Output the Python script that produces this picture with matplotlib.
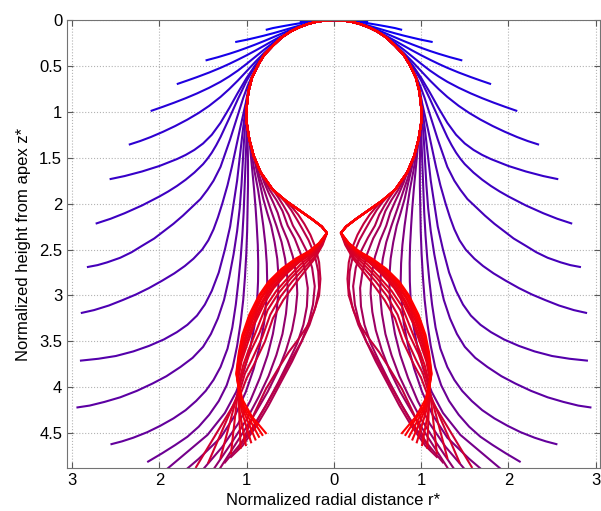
import matplotlib
matplotlib.use('Agg')
import matplotlib.pyplot as plt

# common near-circular part of the profiles, left half (r >= 0), apex -> neck
ARC_R = [0.00, 0.10, 0.20, 0.30, 0.40, 0.50, 0.60, 0.70, 0.80, 0.87, 0.94, 0.98,
         1.00, 1.00, 0.97, 0.92, 0.84, 0.70, 0.55, 0.40, 0.25, 0.14, 0.08]
ARC_Z = [0.000, 0.005, 0.019, 0.044, 0.080, 0.127, 0.19, 0.28, 0.38, 0.49, 0.63, 0.78,
         0.95, 1.12, 1.30, 1.48, 1.66, 1.85, 1.97, 2.07, 2.17, 2.25, 2.32]

# outer (blue) profiles: arc index where they leave the circle, then their own points
BLUE_LEAVE = [0, 0, 1, 2, 3, 5, 6, 7, 8, 9, 10, 11, 12, 13, 13]
BLUE_TAIL = [
    [(0.10, 0.0015), (0.20, 0.006), (0.30, 0.013), (0.38, 0.020)],
    [(0.10, 0.0025), (0.20, 0.010), (0.30, 0.022), (0.40, 0.037), (0.50, 0.053),
     (0.60, 0.070), (0.70, 0.088), (0.77, 0.105)],
    [(0.20, 0.016), (0.30, 0.036), (0.40, 0.062), (0.50, 0.090), (0.60, 0.118),
     (0.70, 0.145), (0.80, 0.170), (0.90, 0.193), (1.00, 0.215), (1.12, 0.238)],
    [(0.30, 0.041), (0.40, 0.071), (0.50, 0.108), (0.60, 0.148), (0.70, 0.189),
     (0.80, 0.229), (0.90, 0.267), (1.00, 0.303), (1.10, 0.337), (1.20, 0.368),
     (1.33, 0.405), (1.46, 0.438)],
    [(0.40, 0.079), (0.50, 0.123), (0.60, 0.173), (0.70, 0.226), (0.80, 0.280),
     (0.90, 0.333), (1.00, 0.384), (1.10, 0.432), (1.20, 0.478), (1.30, 0.521),
     (1.43, 0.572), (1.57, 0.622), (1.68, 0.659), (1.79, 0.695)],
    [(0.60, 0.185), (0.70, 0.250), (0.80, 0.323), (0.90, 0.400), (1.00, 0.477),
     (1.10, 0.550), (1.20, 0.615), (1.30, 0.673), (1.43, 0.738), (1.57, 0.800),
     (1.70, 0.852), (1.83, 0.900), (1.96, 0.945), (2.09, 0.988)],
    [(0.70, 0.270), (0.80, 0.358), (0.90, 0.455), (1.00, 0.557), (1.10, 0.658),
     (1.20, 0.752), (1.30, 0.838), (1.43, 0.935), (1.55, 1.012), (1.68, 1.085),
     (1.82, 1.155), (1.96, 1.218), (2.10, 1.275), (2.22, 1.318), (2.34, 1.355)],
    [(0.80, 0.375), (0.90, 0.490), (1.00, 0.630), (1.10, 0.790), (1.20, 0.960),
     (1.30, 1.120), (1.40, 1.250), (1.50, 1.345), (1.60, 1.415), (1.70, 1.470),
     (1.80, 1.515), (2.00, 1.590), (2.20, 1.650), (2.40, 1.700), (2.56, 1.732)],
    [(0.90, 0.500), (1.00, 0.660), (1.10, 0.860), (1.20, 1.070), (1.30, 1.275),
     (1.35, 1.365), (1.40, 1.445), (1.45, 1.512), (1.50, 1.570), (1.60, 1.662),
     (1.70, 1.740), (1.80, 1.808), (1.90, 1.868), (2.00, 1.922), (2.20, 2.020),
     (2.40, 2.105), (2.56, 2.165), (2.72, 2.215)],
    [(0.935, 0.60), (0.99, 0.72), (1.04, 0.85), (1.09, 1.00), (1.14, 1.15), (1.19, 1.30),
     (1.245, 1.45), (1.30, 1.60), (1.38, 1.75), (1.45, 1.85), (1.53, 1.95), (1.63, 2.04),
     (1.73, 2.13), (1.84, 2.22), (1.95, 2.30), (2.06, 2.38), (2.20, 2.46), (2.32, 2.53),
     (2.45, 2.59), (2.60, 2.64), (2.71, 2.67), (2.82, 2.69)],
    [(0.98, 0.75), (1.01, 0.90), (1.045, 1.05), (1.08, 1.20), (1.125, 1.40), (1.17, 1.60),
     (1.22, 1.80), (1.28, 2.00), (1.33, 2.15), (1.38, 2.28), (1.44, 2.40), (1.51, 2.50),
     (1.61, 2.60), (1.71, 2.68), (1.83, 2.76), (1.97, 2.84), (2.12, 2.92), (2.27, 2.99),
     (2.42, 3.05), (2.58, 3.11), (2.75, 3.16), (2.89, 3.19)],
    [(1.005, 0.90), (1.025, 1.05), (1.05, 1.25), (1.08, 1.50), (1.11, 1.75), (1.15, 2.00),
     (1.19, 2.25), (1.25, 2.50), (1.32, 2.75), (1.40, 2.95), (1.48, 3.10), (1.57, 3.22),
     (1.68, 3.32), (1.80, 3.40), (1.95, 3.48), (2.12, 3.55), (2.30, 3.61), (2.50, 3.66),
     (2.70, 3.69), (2.90, 3.71)],
    [(1.015, 1.10), (1.03, 1.30), (1.045, 1.55), (1.06, 1.80), (1.08, 2.05), (1.11, 2.30),
     (1.15, 2.55), (1.20, 2.80), (1.26, 3.05), (1.33, 3.25), (1.41, 3.42), (1.50, 3.56),
     (1.62, 3.68), (1.76, 3.78), (1.92, 3.88), (2.08, 3.96), (2.26, 4.04), (2.45, 4.11),
     (2.63, 4.16), (2.80, 4.20), (2.94, 4.22)],
    [(1.005, 1.35), (1.015, 1.60), (1.025, 1.85), (1.035, 2.10), (1.05, 2.35), (1.07, 2.60),
     (1.095, 2.85), (1.125, 3.10), (1.165, 3.35), (1.22, 3.58), (1.30, 3.78), (1.38, 3.92),
     (1.47, 4.04), (1.58, 4.15), (1.70, 4.25), (1.84, 4.34), (1.99, 4.42), (2.14, 4.49),
     (2.30, 4.55), (2.43, 4.59), (2.55, 4.62)],
    [(0.99, 1.30), (0.985, 1.55), (0.985, 1.80), (0.99, 2.05), (0.995, 2.30), (1.005, 2.55),
     (1.02, 2.80), (1.04, 3.05), (1.07, 3.30), (1.11, 3.55), (1.16, 3.78), (1.23, 3.98),
     (1.32, 4.15), (1.43, 4.30), (1.55, 4.43), (1.68, 4.54), (1.82, 4.63), (1.97, 4.72),
     (2.13, 4.81)],
]

# middle (purple) profiles leaving the lower part of the circle
PURPLE_LEAVE = [14, 14, 15, 15, 16, 16, 17, 17, 18]
PURPLE_TAIL = [
    [(0.955, 1.45), (0.935, 1.65), (0.915, 1.85), (0.898, 2.05), (0.885, 2.24),
     (0.873, 2.45), (0.868, 2.65), (0.870, 2.85), (0.880, 3.05), (0.905, 3.30),
     (0.955, 3.55), (1.025, 3.80), (1.12, 4.05), (1.25, 4.28), (1.45, 4.52),
     (1.70, 4.72), (1.95, 4.92)],
    [(0.945, 1.45), (0.910, 1.65), (0.870, 1.85), (0.838, 2.05), (0.810, 2.24),
     (0.785, 2.45), (0.770, 2.65), (0.765, 2.85), (0.775, 3.05), (0.800, 3.30),
     (0.850, 3.55), (0.920, 3.80), (1.010, 4.05), (1.130, 4.30), (1.300, 4.55),
     (1.550, 4.78), (1.760, 4.95)],
    [(0.890, 1.62), (0.850, 1.78), (0.810, 1.95), (0.765, 2.10), (0.720, 2.24),
     (0.680, 2.42), (0.650, 2.60), (0.635, 2.80), (0.640, 3.00), (0.660, 3.20),
     (0.700, 3.42), (0.760, 3.65), (0.850, 3.90), (0.960, 4.15), (1.100, 4.40),
     (1.280, 4.65), (1.550, 4.95)],
    [(0.885, 1.60), (0.840, 1.74), (0.790, 1.88), (0.730, 2.05), (0.660, 2.24),
     (0.600, 2.42), (0.560, 2.60), (0.535, 2.80), (0.530, 3.00), (0.550, 3.20),
     (0.590, 3.42), (0.660, 3.65), (0.750, 3.88), (0.860, 4.10), (1.000, 4.35),
     (1.170, 4.60), (1.420, 4.95)],
    [(0.800, 1.77), (0.750, 1.88), (0.700, 1.98), (0.645, 2.10), (0.600, 2.24),
     (0.530, 2.40), (0.470, 2.58), (0.430, 2.78), (0.420, 2.98), (0.440, 3.18),
     (0.480, 3.38), (0.550, 3.60), (0.640, 3.82), (0.760, 4.05), (0.900, 4.28),
     (1.060, 4.52), (1.250, 4.80), (1.330, 4.92)],
    [(0.790, 1.76), (0.730, 1.86), (0.660, 1.96), (0.590, 2.08), (0.530, 2.24),
     (0.450, 2.38), (0.380, 2.55), (0.330, 2.73), (0.300, 2.92), (0.310, 3.12),
     (0.350, 3.32), (0.420, 3.52), (0.520, 3.72), (0.640, 3.95), (0.780, 4.20),
     (0.940, 4.45), (1.100, 4.65), (1.250, 4.82)],
    [(0.640, 1.93), (0.580, 2.02), (0.520, 2.12), (0.470, 2.24), (0.390, 2.37),
     (0.310, 2.52), (0.250, 2.70), (0.220, 2.90), (0.240, 3.10), (0.290, 3.30),
     (0.370, 3.50), (0.480, 3.72), (0.610, 3.95), (0.750, 4.20), (0.900, 4.44),
     (1.050, 4.64), (1.180, 4.76)],
    [(0.630, 1.91), (0.560, 1.98), (0.490, 2.07), (0.420, 2.18), (0.360, 2.28),
     (0.290, 2.40), (0.220, 2.56), (0.180, 2.74), (0.170, 2.92), (0.210, 3.12),
     (0.280, 3.32), (0.370, 3.50), (0.490, 3.70), (0.630, 3.95), (0.780, 4.20),
     (0.930, 4.45), (1.110, 4.68)],
    [(0.480, 2.04), (0.410, 2.12), (0.340, 2.22), (0.270, 2.34), (0.210, 2.48),
     (0.170, 2.64), (0.155, 2.82), (0.170, 3.00), (0.230, 3.18), (0.310, 3.34),
     (0.410, 3.48), (0.520, 3.62), (0.640, 3.80), (0.780, 4.02), (0.910, 4.28),
     (1.050, 4.60)],
]

# inner (red) profiles: whole circle down to the neck, then the lower bulge
# and the broom of end points; listed from the least red to the reddest
RED_TAIL = [
    [(0.13, 2.45), (0.22, 2.60), (0.32, 2.72), (0.45, 2.88), (0.58, 3.05), (0.70, 3.25),
     (0.79, 3.50), (0.92, 3.76), (1.00, 3.90), (1.06, 4.05), (1.58, 4.87)],
    [(0.14, 2.45), (0.23, 2.59), (0.34, 2.70), (0.48, 2.85), (0.61, 3.01), (0.73, 3.21),
     (0.82, 3.45), (0.94, 3.70), (1.02, 3.85), (1.07, 4.01), (1.44, 4.82)],
    [(0.14, 2.44), (0.24, 2.57), (0.36, 2.68), (0.50, 2.82), (0.64, 2.98), (0.76, 3.16),
     (0.85, 3.40), (0.97, 3.64), (1.03, 3.80), (1.08, 3.98), (1.30, 4.77)],
    [(0.15, 2.44), (0.25, 2.56), (0.38, 2.66), (0.52, 2.80), (0.66, 2.95), (0.78, 3.12),
     (0.88, 3.36), (0.98, 3.60), (1.04, 3.76), (1.09, 3.95), (1.18, 4.72)],
    [(0.16, 2.44), (0.26, 2.55), (0.40, 2.64), (0.55, 2.77), (0.69, 2.92), (0.80, 3.09),
     (0.91, 3.31), (1.00, 3.55), (1.06, 3.72), (1.10, 3.92), (1.07, 4.66)],
    [(0.158, 2.436), (0.270, 2.543), (0.405, 2.635), (0.557, 2.759), (0.701, 2.908),
     (0.814, 3.073), (0.918, 3.294), (1.012, 3.526), (1.064, 3.701), (1.103, 3.908),
     (1.08, 4.27), (1.01, 4.63)],
    [(0.16, 2.43), (0.27, 2.54), (0.41, 2.63), (0.57, 2.75), (0.71, 2.89), (0.82, 3.06),
     (0.93, 3.27), (1.02, 3.50), (1.07, 3.68), (1.11, 3.89), (1.06, 4.25), (0.95, 4.60)],
    [(0.164, 2.433), (0.279, 2.533), (0.421, 2.619), (0.576, 2.737), (0.723, 2.882),
     (0.834, 3.040), (0.941, 3.256), (1.029, 3.483), (1.076, 3.665), (1.110, 3.882),
     (1.05, 4.23), (0.90, 4.57)],
    [(0.17, 2.43), (0.28, 2.53), (0.43, 2.61), (0.59, 2.73), (0.73, 2.87), (0.84, 3.03),
     (0.95, 3.24), (1.04, 3.46), (1.08, 3.65), (1.11, 3.87), (1.04, 4.22), (0.86, 4.54)],
    [(0.168, 2.431), (0.286, 2.524), (0.434, 2.606), (0.593, 2.719), (0.742, 2.860),
     (0.852, 3.013), (0.961, 3.225), (1.044, 3.447), (1.086, 3.634), (1.117, 3.860),
     (1.03, 4.21), (0.82, 4.52)],
    [(0.17, 2.43), (0.29, 2.52), (0.44, 2.60), (0.60, 2.71), (0.75, 2.85), (0.86, 3.00),
     (0.97, 3.21), (1.05, 3.43), (1.09, 3.62), (1.12, 3.85), (1.08, 4.08), (0.94, 4.32),
     (0.78, 4.50)],
]

X_TICKS = [-3, -2, -1, 0, 1, 2, 3]
X_TICK_LABELS = ['3', '2', '1', '0', '1', '2', '3']
Y_TICKS = [0, 0.5, 1, 1.5, 2, 2.5, 3, 3.5, 4, 4.5]
Y_TICK_LABELS = ['0', '0.5', '1', '1.5', '2', '2.5', '3', '3.5', '4', '4.5']


def build(leave, tail):
    r = ARC_R[:leave + 1] + [p[0] for p in tail]
    z = ARC_Z[:leave + 1] + [p[1] for p in tail]
    return r, z


def shades(n, lo, hi):
    # evenly spread red share between lo and hi for a group of n profiles
    if n == 1:
        return [hi]
    return [lo + (hi - lo) * i / (n - 1) for i in range(n)]


def main():
    plt.rcParams['font.family'] = ['Liberation Sans', 'DejaVu Sans']

    profiles = []
    reds = []
    for (k, t), s in zip(zip(BLUE_LEAVE, BLUE_TAIL), shades(len(BLUE_TAIL), 0.0, 0.42)):
        profiles.append(build(k, t))
        reds.append(s)
    for (k, t), s in zip(zip(PURPLE_LEAVE, PURPLE_TAIL), shades(len(PURPLE_TAIL), 0.46, 0.76)):
        profiles.append(build(k, t))
        reds.append(s)
    for t, s in zip(RED_TAIL, shades(len(RED_TAIL), 0.80, 1.0)):
        profiles.append(build(len(ARC_R) - 1, t))
        reds.append(s)

    fig = plt.figure(figsize=(6.01, 5.11), dpi=100)
    ax = fig.add_axes([67 / 601, 1 - 468 / 511, 533 / 601, 448 / 511])

    # colour runs from blue (outer profiles) to red (inner profiles)
    for (r, z), s in zip(profiles, reds):
        col = (s, 0.0, 1.0 - s)
        ax.plot(r, z, color=col, lw=1.5, solid_joinstyle='round')
        ax.plot([-v for v in r], z, color=col, lw=1.5, solid_joinstyle='round')

    ax.set_xlim(-3.06, 3.05)
    ax.set_ylim(4.88, 0)
    ax.set_xticks(X_TICKS)
    ax.set_xticklabels(X_TICK_LABELS)
    ax.set_yticks(Y_TICKS)
    ax.set_yticklabels(Y_TICK_LABELS)
    ax.tick_params(direction='in', length=4, labelsize=12, colors='0.35',
                   labelcolor='black', top=True, right=True)
    ax.grid(True, linestyle=':', color='0.7', linewidth=0.8)
    ax.set_axisbelow(True)
    for sp in ax.spines.values():
        sp.set_color('0.45')
        sp.set_linewidth(0.8)

    ax.set_xlabel('Normalized radial distance r*', fontsize=12, labelpad=4)
    ax.set_ylabel('Normalized height from apex z*', fontsize=12, labelpad=6)

    fig.savefig('out.png', dpi=100)


if __name__ == "__main__":
    main()
